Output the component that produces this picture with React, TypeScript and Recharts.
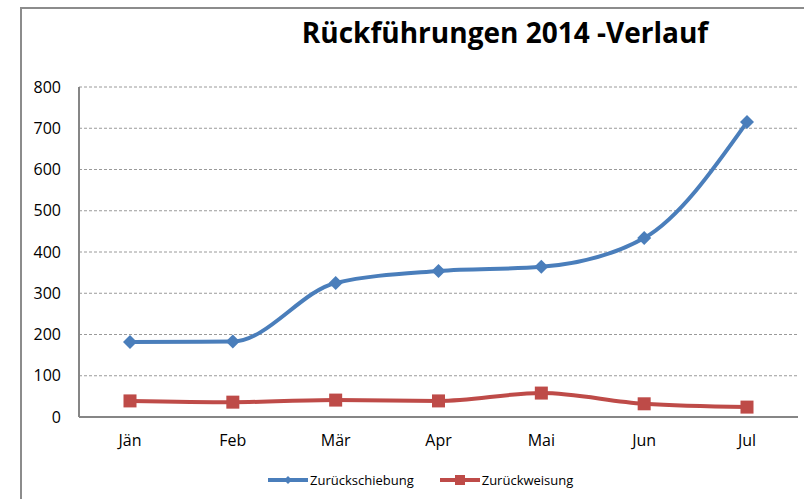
import { LineChart, Line, XAxis, YAxis, CartesianGrid } from "recharts";

const months = ["Jän", "Feb", "Mär", "Apr", "Mai", "Jun", "Jul"];
const zurueckschiebung = [182, 183, 325, 354, 364, 434, 715];
const zurueckweisung = [39, 36, 41, 39, 58, 32, 24];
const yTicks = [0, 100, 200, 300, 400, 500, 600, 700, 800];
const seriesNames = ["Zurückschiebung", "Zurückweisung"];

const data = months.map((month, i) => ({
  month,
  [seriesNames[0]]: zurueckschiebung[i],
  [seriesNames[1]]: zurueckweisung[i],
}));

const BLUE = "#4a7ebb";
const RED = "#be4b48";
const FONT = "'Open Sans', sans-serif";

function Diamond(props: any) {
  const { cx, cy } = props;
  if (cx == null || cy == null) return null;
  const r = 7;
  return (
    <path
      d={`M${cx},${cy - r}L${cx + r},${cy}L${cx},${cy + r}L${cx - r},${cy}Z`}
      fill={BLUE}
    />
  );
}

function Square(props: any) {
  const { cx, cy } = props;
  if (cx == null || cy == null) return null;
  const r = 6.5;
  return <rect x={cx - r} y={cy - r} width={r * 2} height={r * 2} fill={RED} />;
}

export default function App() {
  return (
    <div style={{ position: "absolute", left: 0, top: 0, width: 804, height: 499, background: "#fff", overflow: "hidden" }}>
      <div
        style={{
          position: "absolute",
          left: 20,
          top: 7,
          width: 820,
          height: 520,
          border: "2px solid #8c8c8c",
          boxSizing: "border-box",
        }}
      />
      <div
        style={{
          position: "absolute",
          left: 20,
          width: 970,
          top: 13,
          textAlign: "center",
          fontFamily: FONT,
          fontWeight: 700,
          fontSize: 28,
          color: "#000",
        }}
      >
        Rückführungen 2014 -Verlauf
      </div>
      <div style={{ position: "absolute", left: 0, top: 0 }}>
        <LineChart width={804} height={499} data={data} margin={{ top: 87, right: 6, left: 0, bottom: 52 }}>
          <CartesianGrid vertical={false} stroke="#9a9a9a" strokeDasharray="3 2" />
          <XAxis
            dataKey="month"
            height={30}
            padding={{ left: 51, right: 51 }}
            axisLine={{ stroke: "#868686", strokeWidth: 2 }}
            tickLine={false}
            tickSize={0}
            tickMargin={18}
            tick={{ fill: "#000", fontSize: 16, fontFamily: FONT }}
          />
          <YAxis
            width={79}
            domain={[0, 800]}
            ticks={yTicks}
            axisLine={{ stroke: "#868686", strokeWidth: 2 }}
            tickLine={false}
            tickSize={0}
            tickMargin={18}
            tick={{ fill: "#000", fontSize: 16, fontFamily: FONT }}
          />
          <Line
            type="monotone"
            dataKey={seriesNames[0]}
            stroke={BLUE}
            strokeWidth={4}
            dot={<Diamond />}
            activeDot={false}
            isAnimationActive={false}
          />
          <Line
            type="monotone"
            dataKey={seriesNames[1]}
            stroke={RED}
            strokeWidth={4}
            dot={<Square />}
            activeDot={false}
            isAnimationActive={false}
          />
        </LineChart>
      </div>
      <div
        style={{
          position: "absolute",
          top: 471,
          left: 268,
          display: "flex",
          alignItems: "center",
          fontFamily: FONT,
          fontSize: 13,
          color: "#000",
        }}
      >
        <svg width={40} height={12} style={{ marginRight: 2 }}>
          <line x1={0} y1={6} x2={40} y2={6} stroke={BLUE} strokeWidth={4} />
          <path d="M20,2L24,6L20,10L16,6Z" fill={BLUE} />
        </svg>
        <span style={{ marginRight: 26 }}>{seriesNames[0]}</span>
        <svg width={40} height={12} style={{ marginRight: 2 }}>
          <line x1={0} y1={6} x2={40} y2={6} stroke={RED} strokeWidth={4} />
          <rect x={15} y={1} width={10} height={10} fill={RED} />
        </svg>
        <span>{seriesNames[1]}</span>
      </div>
    </div>
  );
}
